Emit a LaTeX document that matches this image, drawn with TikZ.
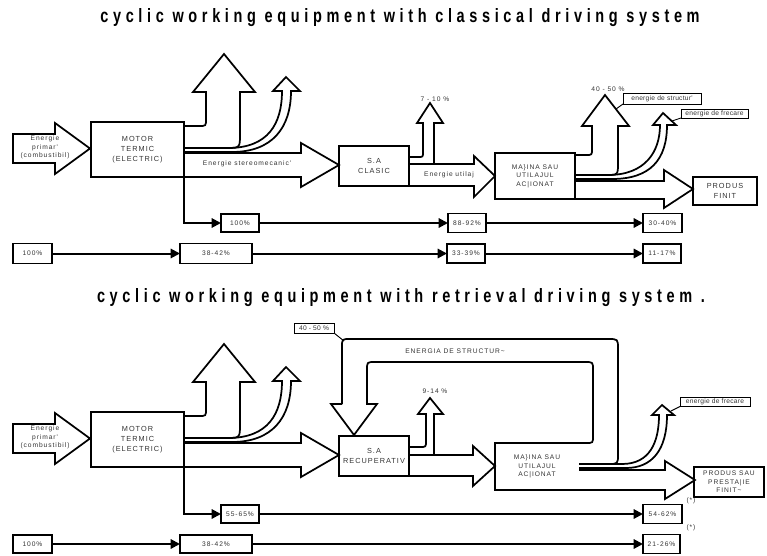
\documentclass[tikz,border=0pt]{standalone}
\usepackage{fontspec}
\setmainfont{Liberation Sans}
\usetikzlibrary{arrows.meta}
\newfontfamily\ttlfont[LetterSpace=24,FakeStretch=0.75]{Liberation Sans}
\newfontfamily\lblfont[LetterSpace=14]{Liberation Sans}
\newfontfamily\ntfont[LetterSpace=4]{Liberation Sans}
\newcommand{\sm}{\lblfont\fontsize{5}{6.5}\selectfont}
\newcommand{\bx}{\lblfont\fontsize{5.5}{7.5}\selectfont}
\newcommand{\nt}{\ntfont\fontsize{5}{6}\selectfont}

\begin{document}
\begin{tikzpicture}[
  x=0.75pt, y=-0.75pt,
  >={Triangle[length=7pt,width=7pt]},
  sz/.style 2 args={minimum width=#1*0.75pt, minimum height=#2*0.75pt},
  box/.style={draw, line width=1.2pt, inner sep=0pt, outer sep=0pt, align=center, font=\bx, text=black!80},
  pct/.style={box, line width=1.4pt, font=\sm},
  note/.style={draw, line width=0.7pt, inner sep=0pt, outer sep=0pt, font=\nt, text=black!80},
  lbl/.style={font=\sm, text=black!80, inner sep=0.5pt, align=center},
  title/.style={font=\ttlfont\bfseries\fontsize{14.5}{16}\selectfont, inner sep=0pt},
  blk/.style={line width=1.3pt, line join=miter},
  flow/.style={->, line width=1.5pt},
  lead/.style={line width=0.7pt},
]
  \useasboundingbox (0,0) rectangle (767,556);

  \node[title] (ttlA) at (400,18) {cyclic working equipment with classical driving system};
  \node[title] (ttlB) at (401,298) {cyclic working equipment with retrieval driving system .};

  % classical driving system
  \node[box, sz={93}{55}] (motorA) at (137.5,149.5) {MOTOR\\TERMIC\\(ELECTRIC)};
  \node[box, sz={70}{40}] (saA) at (374,166) {S.A\\CLASIC};
  \node[box, sz={80}{46}, font=\sm] (masA) at (535,176) {MA\}INA SAU\\UTILAJUL\\AC|IONAT};
  \node[box, sz={64}{28}] (prodA) at (725,191) {PRODUS\\FINIT};

  \draw[blk] (13,134) -- (55,134) -- (55,123) -- (90,148.5) -- (55,174) -- (55,163) -- (13,163) -- cycle;
  \node[lbl] (inA) at (45,147.5) {Energie\\primar'\\(combustibil)};

  \draw[blk] (184,126) -- (199,126) .. controls (206,126) .. (206,119) -- (206,92) -- (193,92) -- (224,54)
    -- (255,92) -- (240,92) -- (240,134) .. controls (240,148) .. (226,148) -- (184,148);
  \draw[blk] (184,148) -- (228,148) .. controls (268,148) and (282,124) .. (282,91) -- (273,91) -- (286,77)
    -- (300,91) -- (291,91) .. controls (291,128) and (272,152) .. (232,152) -- (184,152);
  \draw[blk] (184,153) -- (301,153) -- (301,143) -- (339,165) -- (301,187) -- (301,177) -- (184,177);
  \node[lbl] (lstereo) at (247,164) {Energie stereomecanic'};

  \draw[blk] (409,157) -- (418,157) .. controls (423,157) .. (423,152) -- (423,123) -- (417,123) -- (430,103)
    -- (443,123) -- (434,123) -- (434,164);
  \node[lbl] (l710) at (435,99) {7 - 10 \%};
  \draw[blk] (409,164) -- (474,164) -- (474,156) -- (495,176) -- (474,197) -- (474,186) -- (409,186);
  \node[lbl] (lutil) at (449,175) {Energie utilaj};

  \draw[blk] (575,155) -- (586,155) .. controls (592,155) .. (592,149) -- (592,126) -- (582,126) -- (605,95)
    -- (629,126) -- (618,126) -- (618,163) .. controls (618,175) .. (606,175) -- (575,175);
  \node[lbl] (l4050) at (608,89) {40 - 50 \%};
  \draw[blk] (575,175) -- (608,175) .. controls (645,175) and (660,152) .. (660,125) -- (653,125) -- (663,113)
    -- (676,125) -- (667,125) .. controls (667,160) and (650,179) .. (612,179) -- (575,179);
  \draw[blk] (575,181) -- (664,181) -- (664,170) -- (693,189) -- (664,208) -- (664,199) -- (575,199);

  \node[note, sz={78}{11}] (cstructA) at (662,98.5) {energie de structur'};
  \node[note, sz={67}{9}] (cfrecA) at (714.5,113.5) {energie de frecare};
  \coordinate (wingA) at (616,109);
  \coordinate (wingF) at (672,121);
  \draw[lead] (cstructA.south west) -- (wingA);
  \draw[lead] (cfrecA.south west) -- (wingF);

  \node[pct, sz={38}{18}] (pA1) at (240,223) {100\%};
  \node[pct, sz={38}{19}] (pA2) at (467,223) {88-92\%};
  \node[pct, sz={39}{19}] (pA3) at (662.5,223) {30-40\%};
  \node[pct, sz={39}{20}] (qA0) at (32.5,253.5) {100\%};
  \node[pct, sz={72}{20}] (qA1) at (216,253.5) {38-42\%};
  \node[pct, sz={38}{19}] (qA2) at (466,253.5) {33-39\%};
  \node[pct, sz={38}{19}] (qA3) at (662,253.5) {11-17\%};
  \draw[flow] (motorA.south east) |- (pA1.west);
  \draw[flow] (pA1) -- (pA2);
  \draw[flow] (pA2) -- (pA3);
  \draw[flow] (qA0) -- (qA1);
  \draw[flow] (qA1) -- (qA2);
  \draw[flow] (qA2) -- (qA3);

  % retrieval driving system
  \node[box, sz={93}{55}] (motorB) at (137.5,439.5) {MOTOR\\TERMIC\\(ELECTRIC)};
  \node[box, sz={70}{40}] (saB) at (374,456) {S.A\\RECUPERATIV};
  \node[sz={84}{47}, inner sep=0pt, outer sep=0pt, align=center, font=\sm, text=black!80] (masB) at (537,466.5)
    {MA\}INA SAU\\UTILAJUL\\AC|IONAT};
  \draw[line width=1.2pt] (masB.north east) -- (masB.north west) -- (masB.south west) -- (masB.south east);
  \node[box, sz={70}{30}, font=\sm] (prodB) at (729,482) {PRODUS SAU\\PRESTA|IE\\FINIT\textasciitilde};

  \draw[blk] (13,424) -- (55,424) -- (55,413) -- (90,438.5) -- (55,464) -- (55,453) -- (13,453) -- cycle;
  \node[lbl] (inB) at (45,437.5) {Energie\\primar'\\(combustibil)};

  \draw[blk] (184,416) -- (199,416) .. controls (206,416) .. (206,409) -- (206,382) -- (193,382) -- (224,344)
    -- (255,382) -- (240,382) -- (240,424) .. controls (240,438) .. (226,438) -- (184,438);
  \draw[blk] (184,438) -- (228,438) .. controls (268,438) and (282,414) .. (282,381) -- (273,381) -- (286,367)
    -- (300,381) -- (291,381) .. controls (291,418) and (272,442) .. (232,442) -- (184,442);
  \draw[blk] (184,443) -- (301,443) -- (301,433) -- (339,455) -- (301,477) -- (301,467) -- (184,467);

  % energy of structure returned to the drive
  \draw[blk] (342,404) -- (331,404) -- (354,435) -- (377,404) -- (367,404) -- (367,370) .. controls (367,362) .. (375,362)
    -- (585,362) .. controls (593,362) .. (593,370) -- (593,436) .. controls (593,443) .. (586,443) -- (masB.north east);
  \draw[blk] (342,404) -- (342,347) .. controls (342,339) .. (350,339) -- (608,339) .. controls (618,339) .. (618,349)
    -- (618,454) .. controls (618,464) .. (608,464);
  \node[lbl] (lenstr) at (455,351) {ENERGIA DE STRUCTUR\textasciitilde};
  \node[note, sz={40}{10}] (cpctB) at (314,328) {40 - 50 \%};
  \coordinate (loopB) at (344,341);
  \draw[lead] (cpctB.south east) -- (loopB);

  \draw[blk] (409,447) -- (420,447) .. controls (426,447) .. (426,441) -- (426,414) -- (418,414) -- (430,398)
    -- (443,414) -- (434,414) -- (434,455);
  \node[lbl] (l914) at (435,391) {9-14 \%};
  \draw[blk] (409,455) -- (473,455) -- (473,446) -- (495,466) -- (473,486) -- (473,476) -- (409,476);

  \draw[blk] (579,464) -- (622,464) .. controls (650,464) and (659,442) .. (659,415) -- (652,415) -- (662,405)
    -- (674,415) -- (667,415) .. controls (667,450) and (652,468) .. (626,468) -- (579,468);
  \draw[blk] (579,470) -- (665,470) -- (665,461) -- (695,480) -- (665,499) -- (665,490) -- (579,490);
  \node[note, sz={70}{9}] (cfrecB) at (715,402) {energie de frecare};
  \coordinate (wingB) at (671,411);
  \draw[lead] (cfrecB.south west) -- (wingB);

  \node[pct, sz={38}{18}] (pB1) at (240,514) {55-65\%};
  \node[pct, sz={39}{19}] (pB2) at (662.5,514) {54-62\%};
  \node[pct, sz={39}{18}] (qB0) at (32.5,544) {100\%};
  \node[pct, sz={72}{18}] (qB1) at (216,544) {38-42\%};
  \node[pct, sz={37}{19}] (qB2) at (661.5,544) {21-26\%};
  \node[lbl] (astB1) at (691,501) {(*)};
  \node[lbl] (astB2) at (691,528) {(*)};
  \draw[flow] (motorB.south east) |- (pB1.west);
  \draw[flow] (pB1) -- (pB2);
  \draw[flow] (qB0) -- (qB1);
  \draw[flow] (qB1) -- (qB2);
\end{tikzpicture}
\end{document}
